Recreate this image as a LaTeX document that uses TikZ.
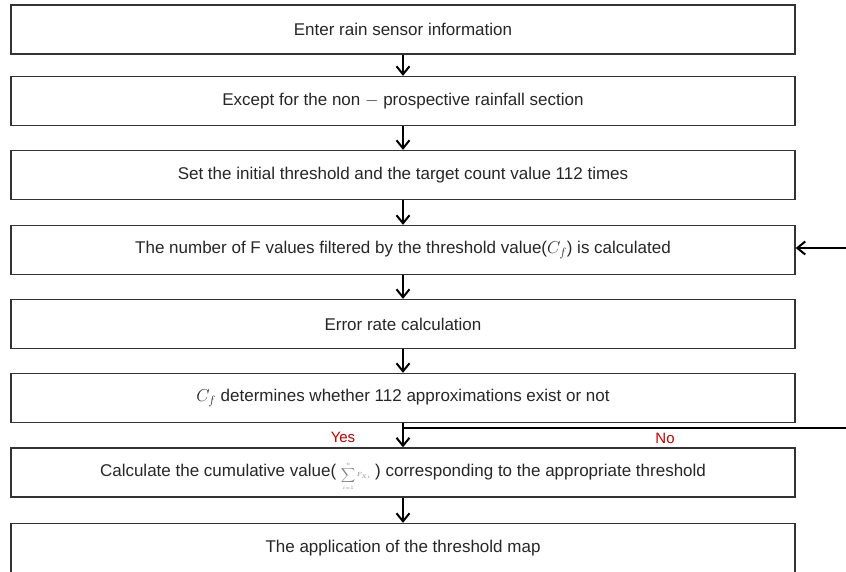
\documentclass[tikz,border=0pt]{standalone}
\usepackage{fontspec}
\setmainfont{Liberation Sans}
\usetikzlibrary{arrows.meta}
\definecolor{flowAnswerRed}{HTML}{C00000}
\definecolor{flowEdgeGray}{HTML}{333333}

\begin{document}
\begin{tikzpicture}[x=1pt, y=-1pt,
        stepbox/.style={draw=flowEdgeGray, line width=1.3pt, minimum width=784pt, minimum height=49pt, inner sep=0pt, text=black!85, font=\fontsize{17}{20}\selectfont},
        flowarrow/.style={line width=2pt, -{Straight Barb[length=8pt, width=13pt]}},
        answer/.style={text=flowAnswerRed, font=\fontsize{15}{18}\selectfont}]
            \useasboundingbox (0,0) rectangle (846,571);
            \clip (0,0) rectangle (846,571);
            \node[stepbox] (s1) at (403,29.5) {Enter rain sensor information};
            \node[stepbox] (s2) at (403,101) {Except for the non $-$ prospective rainfall section};
            \node[stepbox] (s3) at (403,175) {Set the initial threshold and the target count value 112 times};
            \node[stepbox] (s4) at (403,250) {The number of F values filtered by the threshold value($C_f$) is calculated};
            \node[stepbox] (s5) at (403,324) {Error rate calculation};
            \node[stepbox] (s6) at (403,398) {$C_f$ determines whether 112 approximations exist or not};
            \node[stepbox] (s7) at (403,472.5) {Calculate the cumulative value( \smash{\color{gray}\fontsize{6}{6}\selectfont$\displaystyle\sum_{i=1}^{n}F_{Xi}$} ) corresponding to the appropriate threshold};
            \node[stepbox] (s8) at (403,548) {The application of the threshold map};
            \foreach \a/\b in {s1/s2, s2/s3, s3/s4, s4/s5, s5/s6, s6/s7, s7/s8}
                \draw[flowarrow] (\a) -- (\b);
            % No branch runs off to the right and comes back into s4
            \coordinate (branch) at ([yshift=-5pt]s6.south);
            \coordinate (edgeNo) at (846,427);
            \coordinate (edgeBack) at (846,248);
            \draw[line width=2pt] (branch) -- (branch -| edgeNo);
            \draw[flowarrow] (edgeBack) -- (edgeBack -| s4.east);
            \node[answer] (yes) at (343,437) {Yes};
            \node[answer] (no) at (665,438) {No};
        \end{tikzpicture}
\end{document}
